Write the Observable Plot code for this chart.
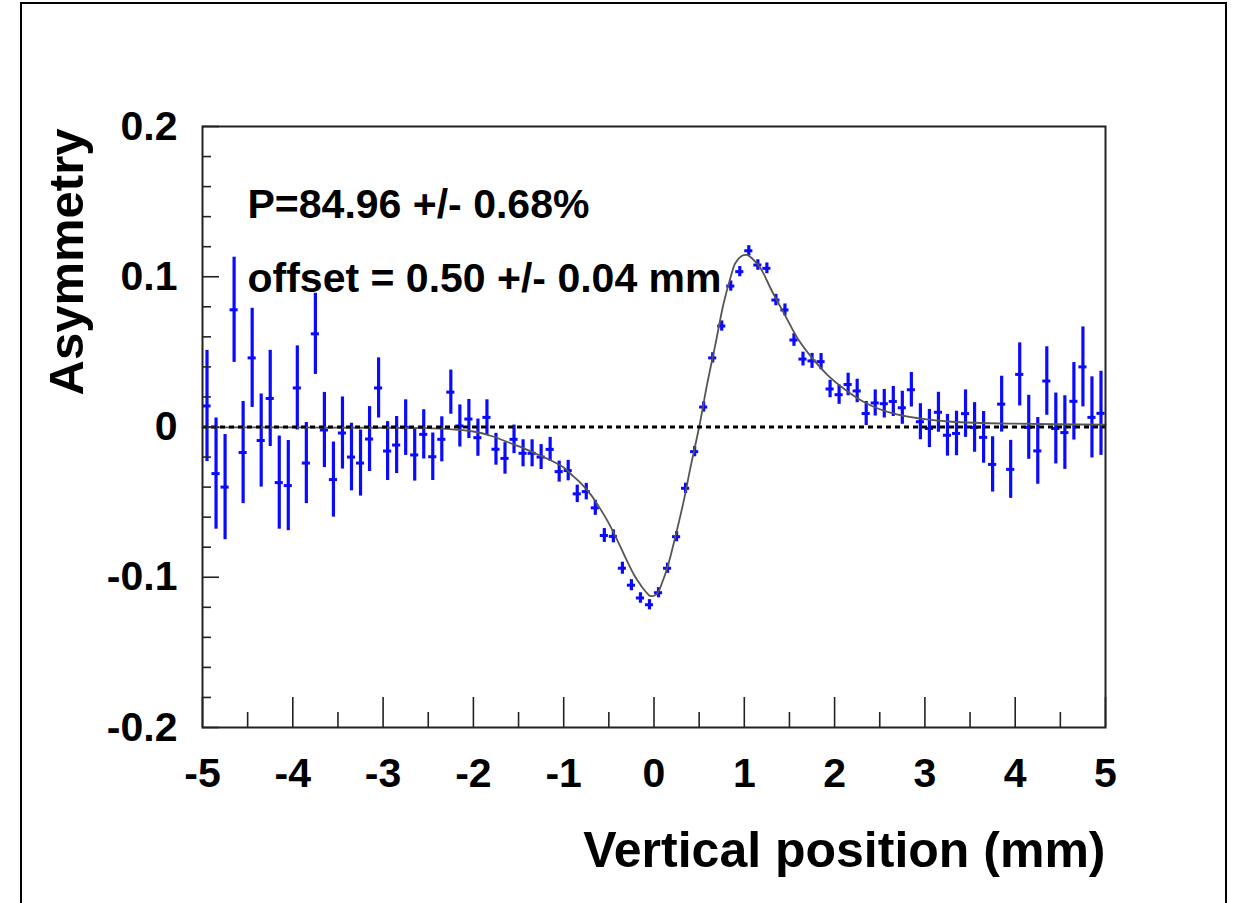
<!DOCTYPE html>
<html>
<head>
<meta charset="utf-8">
<script src="https://cdn.jsdelivr.net/npm/d3@7"></script>
<script src="https://cdn.jsdelivr.net/npm/@observablehq/plot@0.6"></script>
<style>
  body { margin: 0; background: #fff; }
  #wrap { position: relative; width: 1238px; height: 903px; overflow: hidden; background: #fff; }
  #border { position: absolute; left: 20px; top: 2px; width: 1203px; height: 980px; border: 2.5px solid #000; }
  #chart { position: absolute; left: 0; top: 0; }
</style>
</head>
<body>
<div id="wrap"><div id="border"></div><div id="chart"></div></div>
<script>
// Bin centres (mm) of the vertical-position histogram
const binCenters = [
  -4.95, -4.85, -4.75, -4.65, -4.55, -4.45, -4.35, -4.25, -4.15, -4.05,
  -3.95, -3.85, -3.75, -3.65, -3.55, -3.45, -3.35, -3.25, -3.15, -3.05,
  -2.95, -2.85, -2.75, -2.65, -2.55, -2.45, -2.35, -2.25, -2.15, -2.05,
  -1.95, -1.85, -1.75, -1.65, -1.55, -1.45, -1.35, -1.25, -1.15, -1.05,
  -0.95, -0.85, -0.75, -0.65, -0.55, -0.45, -0.35, -0.25, -0.15, -0.05,
   0.05,  0.15,  0.25,  0.35,  0.45,  0.55,  0.65,  0.75,  0.85,  0.95,
   1.05,  1.15,  1.25,  1.35,  1.45,  1.55,  1.65,  1.75,  1.85,  1.95,
   2.05,  2.15,  2.25,  2.35,  2.45,  2.55,  2.65,  2.75,  2.85,  2.95,
   3.05,  3.15,  3.25,  3.35,  3.45,  3.55,  3.65,  3.75,  3.85,  3.95,
   4.05,  4.15,  4.25,  4.35,  4.45,  4.55,  4.65,  4.75,  4.85,  4.95
];

// Measured asymmetry per bin
const asymmetry = [
   0.0140, -0.0310, -0.0400,  0.0780, -0.0170,  0.0460, -0.0090,  0.0190, -0.0370, -0.0390,
   0.0260, -0.0240,  0.0620, -0.0020, -0.0350, -0.0040, -0.0200, -0.0240, -0.0080,  0.0260,
  -0.0160, -0.0120, -0.0004, -0.0186, -0.0049, -0.0198, -0.0082,  0.0232,  0.0007,  0.0053,
  -0.0071,  0.0064, -0.0148, -0.0209, -0.0082, -0.0175, -0.0175, -0.0200, -0.0149, -0.0297,
  -0.0290, -0.0445, -0.0430, -0.0538, -0.0722, -0.0728, -0.0940, -0.1053, -0.1138, -0.1183,
  -0.1103, -0.0940, -0.0730, -0.0408, -0.0164,  0.0133,  0.0460,  0.0672,  0.0938,  0.1034,
   0.1173,  0.1078,  0.1056,  0.0845,  0.0779,  0.0579,  0.0452,  0.0440,  0.0435,  0.0253,
   0.0215,  0.0283,  0.0240,  0.0090,  0.0160,  0.0155,  0.0170,  0.0128,  0.0248,  0.0035,
  -0.0010,  0.0098, -0.0055, -0.0043,  0.0089, -0.0003, -0.0069, -0.0249,  0.0152, -0.0282,
   0.0350, -0.0002, -0.0159,  0.0306, -0.0010, -0.0037,  0.0171,  0.0400,  0.0064,  0.0091
];

// Statistical error per bin
const asymmetryErr = [
  0.0370, 0.0370, 0.0350, 0.0350, 0.0340, 0.0330, 0.0310, 0.0320, 0.0310, 0.0300,
  0.0280, 0.0270, 0.0270, 0.0250, 0.0250, 0.0240, 0.0225, 0.0220, 0.0216, 0.0200,
  0.0196, 0.0190, 0.0185, 0.0174, 0.0164, 0.0158, 0.0150, 0.0147, 0.0140, 0.0130,
  0.0124, 0.0117, 0.0106, 0.0105, 0.0095, 0.0090, 0.0090, 0.0083, 0.0080, 0.0070,
  0.0068, 0.0058, 0.0055, 0.0050, 0.0046, 0.0043, 0.0040, 0.0037, 0.0035, 0.0034,
  0.0034, 0.0034, 0.0034, 0.0034, 0.0034, 0.0034, 0.0034, 0.0034, 0.0034, 0.0034,
  0.0034, 0.0035, 0.0036, 0.0038, 0.0040, 0.0042, 0.0046, 0.0050, 0.0054, 0.0058,
  0.0064, 0.0075, 0.0078, 0.0080, 0.0087, 0.0095, 0.0100, 0.0110, 0.0115, 0.0120,
  0.0127, 0.0133, 0.0139, 0.0148, 0.0158, 0.0165, 0.0172, 0.0184, 0.0186, 0.0193,
  0.0210, 0.0213, 0.0222, 0.0228, 0.0236, 0.0245, 0.0258, 0.0266, 0.0270, 0.0280
];

// Fitted curve, sampled along x
const fitX = [
  -5.0, -4.0, -3.0, -2.5, -2.3, -2.0, -1.8, -1.6, -1.44, -1.3,
  -1.15, -1.0, -0.89, -0.8, -0.7, -0.6, -0.52, -0.45, -0.37, -0.3,
  -0.22, -0.15, -0.1, -0.04, 0.03, 0.1, 0.16, 0.22, 0.33, 0.4,
  0.5, 0.59, 0.68, 0.77, 0.85, 0.9, 0.97, 1.03, 1.09, 1.18,
  1.31, 1.45, 1.6, 1.77, 1.94, 2.07, 2.3, 2.5, 2.7, 3.0,
  3.3, 4.0, 5.0
];
const fitY = [
  -0.0002, -0.0003, -0.0005, -0.0008, -0.0012, -0.0030, -0.0060, -0.0105, -0.0142, -0.0180,
  -0.0220, -0.0270, -0.0330, -0.0380, -0.0450, -0.0540, -0.0620, -0.0700, -0.0800, -0.0890,
  -0.0985, -0.1050, -0.1090, -0.1125, -0.1112, -0.1020, -0.0910, -0.0770, -0.0490, -0.0280,
   0.0000,  0.0290,  0.0550,  0.0820,  0.1000,  0.1090,  0.1138,  0.1145,  0.1120,  0.1056,
   0.0900,  0.0745,  0.0580,  0.0445,  0.0335,  0.0270,  0.0175,  0.0118,  0.0082,  0.0052,
   0.0035,  0.0022,  0.0015
];

// Axis ticks and labels
const xTicks = [-5, -4, -3, -2, -1, 0, 1, 2, 3, 4, 5];
const xTickLabels = ["-5", "-4", "-3", "-2", "-1", "0", "1", "2", "3", "4", "5"];
const xMinorTicks = [-4.5, -3.5, -2.5, -1.5, -0.5, 0.5, 1.5, 2.5, 3.5, 4.5];
const yTicks = [-0.2, -0.1, 0, 0.1, 0.2];
const yTickLabels = ["-0.2", "-0.1", "0", "0.1", "0.2"];
const yMinorTicks = [-0.18, -0.16, -0.14, -0.12, -0.08, -0.06, -0.04, -0.02,
                      0.02, 0.04, 0.06, 0.08, 0.12, 0.14, 0.16, 0.18];

const xTitle = "Vertical position (mm)";
const yTitle = "Asymmetry";
const polarisationText = "P=84.96 +/- 0.68%";
const offsetText = "offset = 0.50 +/- 0.04 mm";

const points = binCenters.map((x, i) => ({x, y: asymmetry[i], err: asymmetryErr[i]}));
const fit = fitX.map((x, i) => ({x, y: fitY[i]}));

const blue = "#0a0aff";
const axisColor = "#222";
const font = "'Liberation Sans', Arial, Helvetica, sans-serif";

const chart = Plot.plot({
  width: 1238,
  height: 903,
  marginLeft: 202,
  marginRight: 133,
  marginTop: 126,
  marginBottom: 176,
  style: {fontFamily: font, background: "transparent", color: "#000"},
  x: {domain: [-5, 5], axis: null},
  y: {domain: [-0.2, 0.2], axis: null},
  marks: [
    // vertical error bars
    Plot.ruleX(points, {x: "x", y1: d => d.y - d.err, y2: d => d.y + d.err,
                        stroke: blue, strokeWidth: 3.2}),
    // horizontal bin-width markers
    Plot.ruleY(points, {y: "y", x1: d => d.x - 0.045, x2: d => d.x + 0.045,
                        stroke: blue, strokeWidth: 3}),
    // fit function
    Plot.line(fit, {x: "x", y: "y", curve: "catmull-rom", stroke: "#555", strokeWidth: 1.8}),
    // zero reference
    Plot.ruleY([0], {stroke: "#000", strokeWidth: 3, strokeDasharray: "5,4"}),
    // frame
    Plot.frame({stroke: axisColor, strokeWidth: 2}),
    // inward ticks on the bottom axis
    Plot.ruleX(xTicks, {x: d => d, y1: -0.2, y2: -0.2, insetTop: -30, stroke: axisColor, strokeWidth: 1.6}),
    Plot.ruleX(xMinorTicks, {x: d => d, y1: -0.2, y2: -0.2, insetTop: -15, stroke: axisColor, strokeWidth: 1.6}),
    // inward ticks on the left axis
    Plot.ruleY(yTicks, {y: d => d, x1: -5, x2: -5, insetRight: -17, stroke: axisColor, strokeWidth: 1.6}),
    Plot.ruleY(yMinorTicks, {y: d => d, x1: -5, x2: -5, insetRight: -9, stroke: axisColor, strokeWidth: 1.6}),
    // tick labels
    Plot.text(xTicks, {x: d => d, text: (d, i) => xTickLabels[i], frameAnchor: "bottom",
                       lineAnchor: "top", dy: 30, fontSize: 41, fontWeight: "bold", fill: "#000"}),
    Plot.text(yTicks, {y: d => d, text: (d, i) => yTickLabels[i], frameAnchor: "left",
                       textAnchor: "end", lineAnchor: "middle", dx: -25, fontSize: 41, fontWeight: "bold", fill: "#000"}),
    // axis titles
    Plot.text([xTitle], {frameAnchor: "bottom-right", textAnchor: "end", lineAnchor: "middle",
                         dy: 123, fontSize: 50, fontWeight: "bold", fill: "#000"}),
    Plot.text([yTitle], {frameAnchor: "top-left", textAnchor: "end", lineAnchor: "middle", rotate: -90,
                         dx: -135, dy: 2, fontSize: 49, fontWeight: "bold", fill: "#000"}),
    // fit results
    Plot.text([polarisationText], {frameAnchor: "top-left", textAnchor: "start", lineAnchor: "middle",
                                   dx: 45, dy: 78, fontSize: 41, fontWeight: "bold", fill: "#000"}),
    Plot.text([offsetText], {frameAnchor: "top-left", textAnchor: "start", lineAnchor: "middle",
                             dx: 45, dy: 152, fontSize: 41, fontWeight: "bold", fill: "#000"})
  ]
});

document.getElementById("chart").appendChild(chart);
</script>
</body>
</html>
